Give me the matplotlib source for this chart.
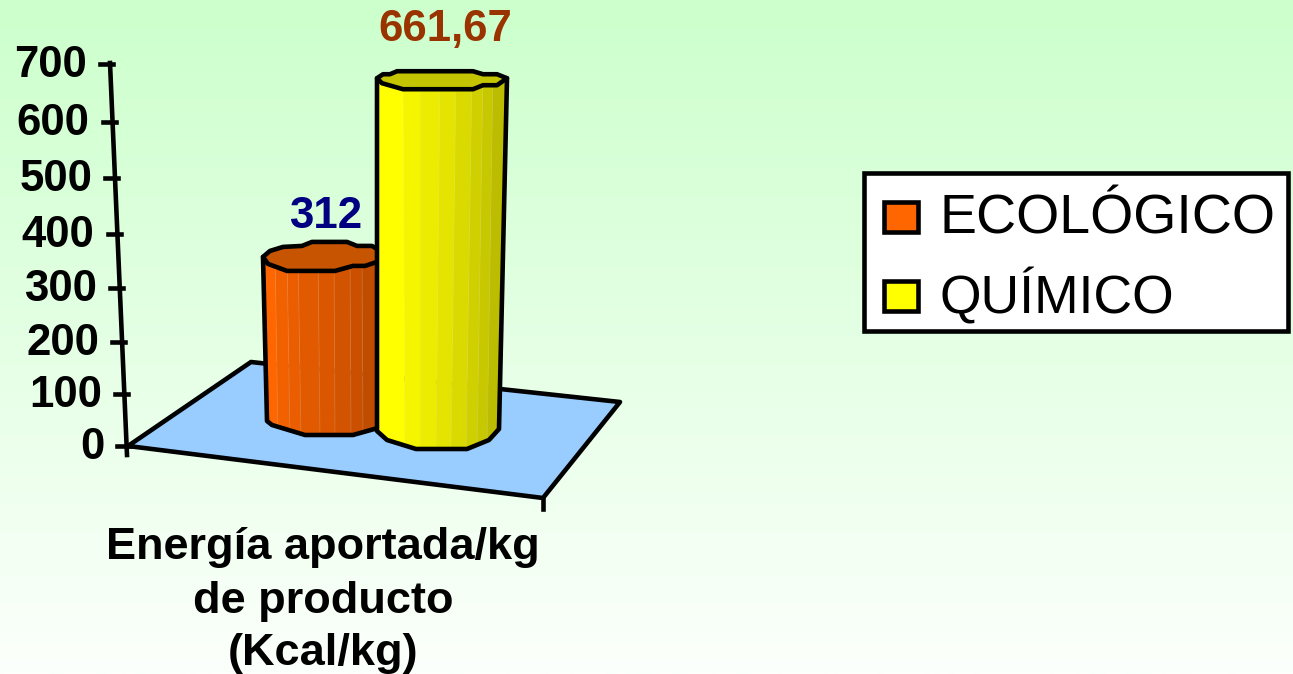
import numpy as np
import matplotlib
matplotlib.use('Agg')
import matplotlib.pyplot as plt
from matplotlib.patches import Polygon, Rectangle

plt.rcParams['font.family'] = ['Liberation Sans', 'DejaVu Sans']

# chart data
series_names = ['ECOLÓGICO', 'QUÍMICO']
series_values = [312, 661.67]
value_labels = ['312', '661,67']
tick_values = [0, 100, 200, 300, 400, 500, 600, 700]
xlabel_lines = ['Energía aportada/kg', 'de producto', '(Kcal/kg)']

# colours
LINE = '#000000'
FLOOR = '#99CCFF'
ECO_FACETS = ['#FF6600', '#F26100', '#EA5D00', '#E25A00', '#DA5700', '#D25400', '#CA5000', '#C04C00']
CHEM_FACETS = ['#FFFF00', '#F5F500', '#ECEC00', '#E4E400', '#DADA00', '#D0D000', '#C8C800', '#BCBC00']
LW = 3.3

AXIS_BASE = (127, 446)
AXIS_TOP = (110, 63)


# the 3d view squeezes the lower values a little
def value_height(v):
    return 0.51 * v + 0.000051 * v ** 2


def axis_point(v):
    h = value_height(v)
    total = AXIS_BASE[1] - AXIS_TOP[1]
    x = AXIS_BASE[0] + (AXIS_TOP[0] - AXIS_BASE[0]) * h / total
    return x, AXIS_BASE[1] - h


def draw_cylinder(ax, value, base_front, base_edge, top_edges, facet_top, facet_bot,
                  rim, colors, rim_color, zorder):
    top = base_front - value_height(value)
    rim_pts = [(x, top + dy) for x, dy in rim]
    body = [(top_edges[0], rim_pts[0][1]), (top_edges[1], rim_pts[0][1])] + base_edge
    clip = Polygon(body, closed=True, transform=ax.transData, fc='none', ec='none')
    ax.add_patch(clip)
    for i, col in enumerate(colors):
        quad = [(facet_top[i], top - 20), (facet_top[i + 1], top - 20),
                (facet_bot[i + 1], base_front + 5), (facet_bot[i], base_front + 5)]
        strip = Polygon(quad, closed=True, fc=col, ec=col, lw=0.3, zorder=zorder)
        ax.add_patch(strip)
        strip.set_clip_path(clip)
        if i > 0:
            # thin highlight between the facets
            seam, = ax.plot([facet_top[i], facet_bot[i]], [top - 20, base_front + 5],
                            color='#FFFFFF', alpha=0.15, lw=0.6, zorder=zorder)
            seam.set_clip_path(clip)
    ax.add_patch(Polygon(body, closed=True, fc='none', ec=LINE, lw=LW, joinstyle='round', zorder=zorder + 0.1))
    ax.add_patch(Polygon(rim_pts, closed=True, fc=rim_color, ec=LINE, lw=LW, joinstyle='round', zorder=zorder + 0.2))


fig = plt.figure(figsize=(12.93, 6.74), dpi=100)
ax = fig.add_axes([0, 0, 1, 1])
ax.set_xlim(0, 1293)
ax.set_ylim(674, 0)
ax.axis('off')

# background gradient
grad = np.zeros((256, 1, 3))
t = np.linspace(0, 1, 256)
grad[:, 0, 0] = (204 + 48 * t) / 255
grad[:, 0, 1] = 1.0
grad[:, 0, 2] = (204 + 48 * t) / 255
ax.imshow(grad, extent=[0, 1293, 674, 0], aspect='auto', zorder=0)

# floor
ax.add_patch(Polygon([(128, 446), (251, 362), (620, 402), (543, 498)], closed=True,
                     fc=FLOOR, ec=LINE, lw=LW, joinstyle='round', zorder=1))
ax.plot([543, 543], [498, 509], color=LINE, lw=LW, zorder=1)

# value axis
ax.plot([AXIS_TOP[0], AXIS_BASE[0]], [AXIS_TOP[1], AXIS_BASE[1] + 9], color=LINE, lw=LW, zorder=4)
for v in tick_values:
    x, y = axis_point(v)
    ax.plot([x - 10, x + 3], [y, y], color=LINE, lw=LW, zorder=4)
    ax.text(x - 23, y + 1.5, str(v), ha='right', va='center', fontsize=31.5, fontweight='bold',
            color='#000000', zorder=5)

# columns
eco_rim = [(263, -14), (270, -20), (283, -24), (302, -25), (312, -29), (347, -29), (357, -25), (372, -25),
           (385, -17), (377, -9), (365, -5), (353, -5), (335, 0), (287, 0), (268, -7)]
eco_base = [(385, 426), (353, 435), (305, 435), (272, 425), (267, 421)]
chem_rim = [(377, -11), (383, -15), (390, -15), (397, -18), (473, -18), (483, -15), (497, -15),
            (507, -11), (497, -4), (483, -4), (473, 0), (403, 0), (382, -6)]
chem_base = [(499, 429), (489, 440), (467, 449), (416, 449), (387, 440), (377, 431)]

draw_cylinder(ax, series_values[0], 435, eco_base, (263, 385),
              [263, 275, 287, 298, 318, 334, 350, 362, 385],
              [267, 278, 290, 301, 320, 335, 351, 363, 385],
              eco_rim, ECO_FACETS, '#C65400', 2)
draw_cylinder(ax, series_values[1], 449, chem_base, (377, 507),
              [377, 403, 420, 440, 456, 472, 483, 493, 507],
              [377, 405, 420, 436, 451, 466, 477, 487, 499],
              chem_rim, CHEM_FACETS, '#C4C400', 3)

# value labels
ax.text(326, 217, value_labels[0], ha='center', va='center', fontsize=31.5, fontweight='bold',
        color='#000080', zorder=6)
ax.text(445, 30, value_labels[1], ha='center', va='center', fontsize=31.5, fontweight='bold',
        color='#993300', zorder=6)

# category label
for line, y in zip(xlabel_lines, [548, 602, 653]):
    ax.text(323, y, line, ha='center', va='center', fontsize=32.5, fontweight='bold',
            color='#000000', zorder=6)

# legend
ax.add_patch(Rectangle((864, 173), 424, 158, fc='#FFFFFF', ec=LINE, lw=LW, zorder=6))
for name, col, sw_y, base_y, size in zip(series_names, [ECO_FACETS[0], CHEM_FACETS[0]], [202, 281], [234, 313], [40, 38.5]):
    ax.add_patch(Rectangle((884, sw_y), 34, 30, fc=col, ec=LINE, lw=LW, zorder=7))
    ax.text(939, base_y, name, ha='left', va='baseline', fontsize=size, color='#000000', zorder=7)

fig.savefig('out.png', dpi=100)
plt.close(fig)
